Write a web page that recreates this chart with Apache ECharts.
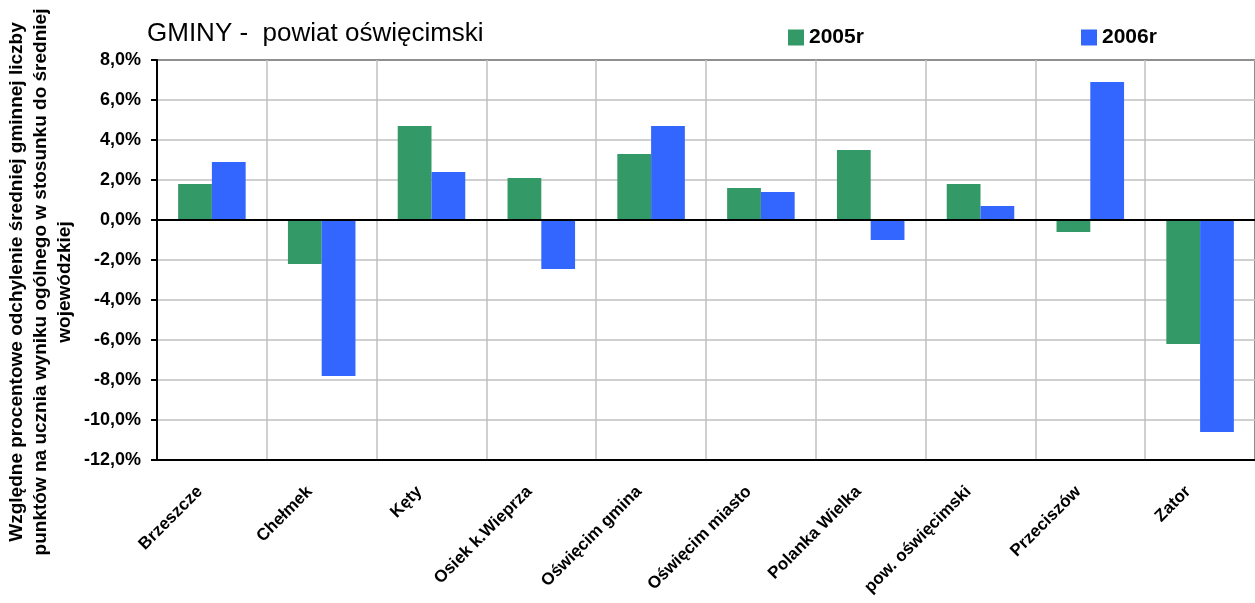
<!DOCTYPE html>
<html>
<head>
<meta charset="utf-8">
<script src="https://cdn.jsdelivr.net/npm/echarts@6/dist/echarts.min.js"></script>
<style>
html,body{margin:0;padding:0;background:#fff;}
#chart{width:1255px;height:603px;}
</style>
</head>
<body>
<div id="chart"></div>
<script>
const categories = ['Brzeszcze','Chełmek','Kęty','Osiek k.Wieprza','Oświęcim gmina','Oświęcim miasto','Polanka Wielka','pow. oświęcimski','Przeciszów','Zator'];
const values2005 = [1.8, -2.2, 4.7, 2.1, 3.3, 1.6, 3.5, 1.8, -0.6, -6.2];
const values2006 = [2.9, -7.8, 2.4, -2.45, 4.7, 1.4, -1.0, 0.7, 6.9, -10.6];
const seriesNames = ['2005r', '2006r'];
const titleText = 'GMINY -  powiat oświęcimski';
const yAxisTitle = 'Względne procentowe odchylenie średniej gminnej liczby\npunktów na ucznia wyniku ogólnego w stosunku do średniej\nwojewódzkiej';

const FONT = 'Liberation Sans, Arial, sans-serif';
const chart = echarts.init(document.getElementById('chart'), null, {renderer: 'canvas'});
chart.setOption({
  backgroundColor: '#fff',
  animation: false,
  title: {
    text: titleText, left: 147, top: 21, padding: 0,
    textStyle: {fontFamily: FONT, fontSize: 26, fontWeight: 'normal', color: '#000'}
  },
  legend: [
    {data: [seriesNames[0]], left: 788, top: 27, padding: 0, itemWidth: 16, itemHeight: 16,
     icon: 'rect', textStyle: {fontFamily: FONT, fontSize: 21, fontWeight: 'bold', color: '#000'}},
    {data: [seriesNames[1]], left: 1081, top: 27, padding: 0, itemWidth: 16, itemHeight: 16,
     icon: 'rect', textStyle: {fontFamily: FONT, fontSize: 21, fontWeight: 'bold', color: '#000'}}
  ],
  graphic: [{
    type: 'text', x: 41, y: 282, rotation: Math.PI / 2, silent: true,
    style: {text: yAxisTitle, textAlign: 'center', textVerticalAlign: 'middle',
      font: 'bold 19px ' + FONT, lineHeight: 24, fill: '#000'}
  }],
  grid: {left: 157, top: 60, width: 1103, height: 400, show: true,
    borderColor: '#000', borderWidth: 2, backgroundColor: 'transparent', containLabel: false},
  xAxis: {
    type: 'category', data: categories,
    axisLine: {onZero: false, lineStyle: {color: '#000', width: 2}},
    axisTick: {show: false},
    splitLine: {show: true, lineStyle: {color: '#c0c0c0', width: 1.5}},
    axisLabel: {rotate: 45, margin: 17, interval: 0, padding: [0, 17, 0, 0], fontFamily: FONT, fontSize: 17,
      fontWeight: 'bold', color: '#000'}
  },
  yAxis: {
    type: 'value', min: -12, max: 8, interval: 2,
    axisLine: {show: true, lineStyle: {color: '#000', width: 2}},
    axisTick: {show: true, length: 6, lineStyle: {color: '#000', width: 2}},
    splitLine: {show: true, lineStyle: {color: '#c0c0c0', width: 1.5}},
    axisLabel: {margin: 16, fontFamily: FONT, fontSize: 18, fontWeight: 'bold', color: '#000',
      formatter: v => v.toFixed(1).replace('.', ',') + '%'}
  },
  series: [
    {name: seriesNames[0], type: 'bar', data: values2005, barGap: '0%', barCategoryGap: '38.5%',
     itemStyle: {color: '#339966'},
     markLine: {silent: true, symbol: 'none', label: {show: false},
       lineStyle: {color: '#000', width: 2, type: 'solid'}, data: [{yAxis: 0}]}},
    {name: seriesNames[1], type: 'bar', data: values2006, barGap: '0%', barCategoryGap: '38.5%',
     itemStyle: {color: '#3366FF'}}
  ]
});
</script>
</body>
</html>
